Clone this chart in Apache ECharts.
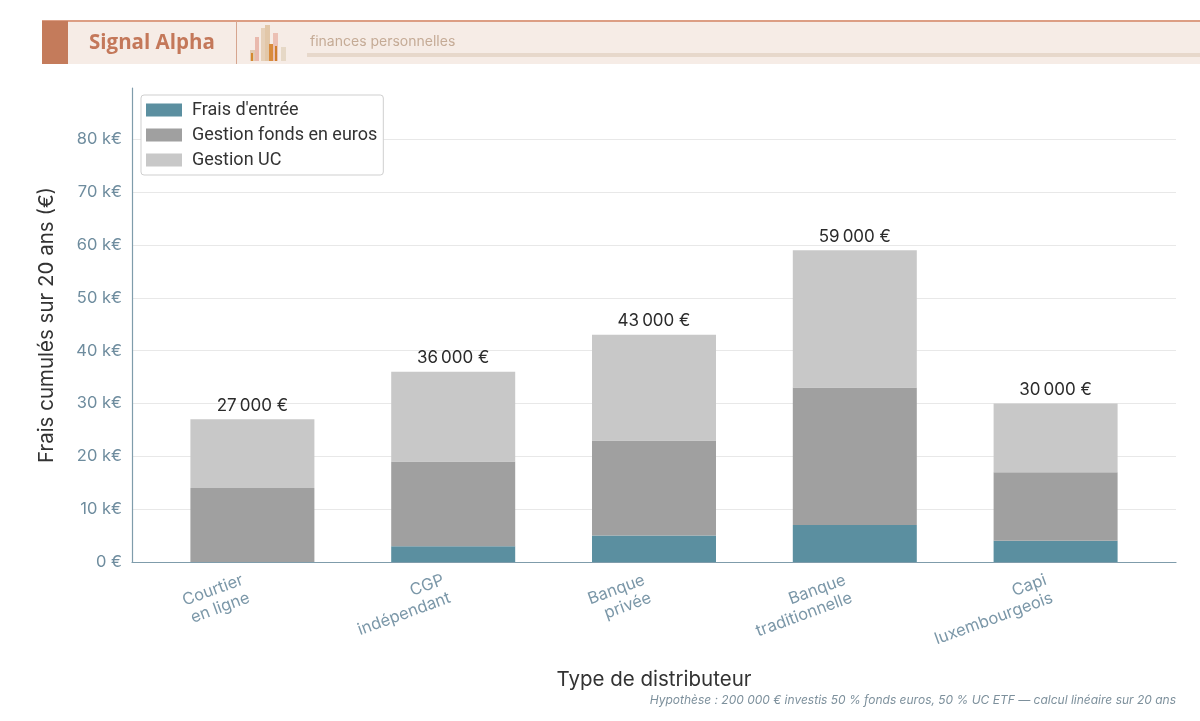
<!DOCTYPE html>
<html>
<head>
<meta charset="utf-8">
<title>Frais cumulés par distributeur</title>
<script src="https://cdn.jsdelivr.net/npm/echarts@6/dist/echarts.min.js"></script>
<style>
  html, body { margin: 0; padding: 0; background: #fff; }
  #main { width: 1200px; height: 721px; }
</style>
</head>
<body>
<div id="main"></div>
<script>
// distributor types, x axis
var categories = ['Courtier\nen ligne', 'CGP\nindépendant', 'Banque\nprivée', 'Banque\ntraditionnelle', 'Capi\nluxembourgeois'];
// cumulated fees over 20 years, in euros
var fraisEntree = [0, 3000, 5000, 7000, 4000];
var gestionEuros = [14000, 16000, 18000, 26000, 13000];
var gestionUC = [13000, 17000, 20000, 26000, 13000];
var yTicks = [0, 10000, 20000, 30000, 40000, 50000, 60000, 70000, 80000];

var totals = categories.map(function (c, i) {
    return fraisEntree[i] + gestionEuros[i] + gestionUC[i];
});

function fmtEuro(v) {
    return String(v).replace(/\B(?=(\d{3})+(?!\d))/g, '\u202f') + ' €';
}

var yMax = 89700;
var myChart = echarts.init(document.getElementById('main'), null, {renderer: 'canvas'});

var option = {
    backgroundColor: '#ffffff',
    textStyle: {fontFamily: 'Inter'},
    animation: false,
    // grid 0 : frame, y axis, grid lines ; grid 1 : the bars (padded like the original)
    grid: [
        {left: 132, right: 24, top: 88, bottom: 159},
        {left: 152, right: 44, top: 88, bottom: 159}
    ],
    legend: {
        orient: 'vertical',
        left: 141,
        top: 95,
        icon: 'rect',
        itemWidth: 36,
        itemHeight: 13,
        itemGap: 7,
        padding: [6, 6, 6, 5],
        borderColor: '#cfcfcf',
        borderWidth: 1,
        borderRadius: 3,
        backgroundColor: '#fff',
        textStyle: {fontSize: 18, color: '#333', fontFamily: 'Roboto', padding: [0, 0, 0, 5]},
        data: ["Frais d'entrée", 'Gestion fonds en euros', 'Gestion UC']
    },
    xAxis: [
        {
            gridIndex: 0,
            type: 'value',
            min: 0,
            max: 1,
            name: 'Type de distributeur',
            nameLocation: 'middle',
            nameGap: 107,
            nameTextStyle: {fontSize: 20.5, color: '#333', fontFamily: 'Inter'},
            axisLine: {show: true, onZero: false, lineStyle: {color: '#7f9cab', width: 1.2}},
            axisTick: {show: false},
            axisLabel: {show: false},
            splitLine: {show: false}
        },
        {
            gridIndex: 1,
            type: 'category',
            data: categories,
            axisLine: {show: false},
            axisTick: {show: false},
            splitLine: {show: false},
            axisLabel: {
                rotate: 20,
                margin: 24,
                interval: 0,
                fontSize: 16.5,
                lineHeight: 19,
                padding: [0, 7, 0, 0],
                color: '#7b97a8',
                fontFamily: 'Inter'
            }
        }
    ],
    yAxis: [
        {
            gridIndex: 0,
            type: 'value',
            min: 0,
            max: yMax,
            interval: 10000,
            name: 'Frais cumulés sur 20 ans (€)',
            nameLocation: 'middle',
            nameGap: 75,
            nameTextStyle: {fontSize: 20.5, color: '#333', fontFamily: 'Inter'},
            axisLine: {show: true, onZero: false, lineStyle: {color: '#7f9cab', width: 1.2}},
            axisTick: {show: false},
            splitLine: {show: true, showMaxLine: false, lineStyle: {color: '#e8e8e8', width: 1}},
            axisLabel: {
                showMaxLabel: false,
                fontSize: 16.5,
                color: '#6e8c9e',
                margin: 10,
                formatter: function (v) {
                    if (yTicks.indexOf(v) < 0) return '';
                    return v === 0 ? '0 €' : (v / 1000) + ' k€';
                }
            }
        },
        {
            gridIndex: 1,
            type: 'value',
            min: 0,
            max: yMax,
            show: false,
            splitLine: {show: false}
        }
    ],
    series: [
        {
            name: "Frais d'entrée",
            type: 'bar',
            stack: 'total',
            xAxisIndex: 1,
            yAxisIndex: 1,
            barWidth: 124,
            itemStyle: {color: '#5b8fa0'},
            data: fraisEntree
        },
        {
            name: 'Gestion fonds en euros',
            type: 'bar',
            stack: 'total',
            xAxisIndex: 1,
            yAxisIndex: 1,
            barWidth: 124,
            itemStyle: {color: '#a0a0a0'},
            data: gestionEuros
        },
        {
            name: 'Gestion UC',
            type: 'bar',
            stack: 'total',
            xAxisIndex: 1,
            yAxisIndex: 1,
            barWidth: 124,
            itemStyle: {color: '#c8c8c8'},
            data: gestionUC,
            label: {
                show: true,
                position: 'top',
                distance: 5,
                fontSize: 17,
                color: '#2b2b2b',
                fontFamily: 'Inter',
                formatter: function (p) { return fmtEuro(totals[p.dataIndex]); }
            }
        }
    ],
    graphic: [
        // header banner
        {type: 'rect', left: 42, top: 21, shape: {width: 1158, height: 43}, style: {fill: '#f6ece6'}},
        {type: 'rect', left: 42, top: 20, shape: {width: 1158, height: 2}, style: {fill: '#dc9e84'}},
        {type: 'rect', left: 42, top: 21, shape: {width: 26, height: 43}, style: {fill: '#c47b5b'}},
        {type: 'text', left: 89, top: 33, style: {text: 'Signal Alpha', fill: '#c4785a',
            font: 'bold 20.5px "Open Sans"'}},
        {type: 'rect', left: 236, top: 21, shape: {width: 1, height: 43}, style: {fill: '#d6a58f'}},
        // small bar icon
        {type: 'rect', left: 250, top: 50, shape: {width: 5, height: 11}, style: {fill: '#e2c9b0'}},
        {type: 'rect', left: 251, top: 53, shape: {width: 2, height: 8}, style: {fill: '#d4892f'}},
        {type: 'rect', left: 255, top: 37, shape: {width: 4, height: 24}, style: {fill: '#e9b9ad'}},
        {type: 'rect', left: 261, top: 28, shape: {width: 4, height: 33}, style: {fill: '#e6d0b8'}},
        {type: 'rect', left: 265, top: 25, shape: {width: 5, height: 36}, style: {fill: '#e2c7a8'}},
        {type: 'rect', left: 269, top: 44, shape: {width: 4, height: 17}, style: {fill: '#d98b3c'}},
        {type: 'rect', left: 273, top: 33, shape: {width: 5, height: 28}, style: {fill: '#ecc0b4'}},
        {type: 'rect', left: 275, top: 46, shape: {width: 2, height: 15}, style: {fill: '#cf7f2c'}},
        {type: 'rect', left: 281, top: 47, shape: {width: 5, height: 14}, style: {fill: '#e6d8c6'}},
        {type: 'text', left: 310, top: 35, style: {text: 'finances personnelles', fill: '#c5ab96',
            font: '14px Inter'}},
        {type: 'rect', left: 307, top: 53, shape: {width: 893, height: 4}, style: {fill: '#e7d8cb'}},
        // footnote
        {type: 'text', right: 24, top: 694, style: {
            text: 'Hypothèse : 200 000 € investis 50 % fonds euros, 50 % UC ETF — calcul linéaire sur 20 ans',
            fill: '#7d909c', font: 'italic 12px Inter', textAlign: 'right'}}
    ]
};

myChart.setOption(option);
</script>
</body>
</html>
